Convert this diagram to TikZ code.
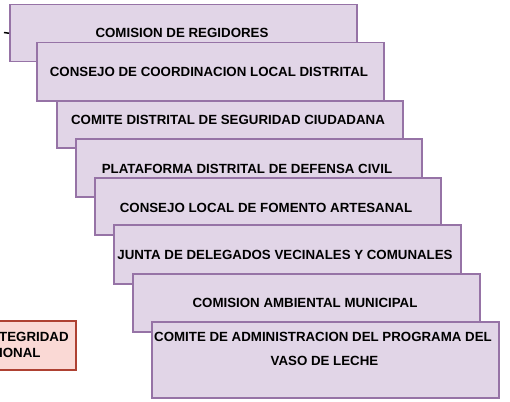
\documentclass[tikz,border=0pt]{standalone}
\usepackage{fontspec}
\setmainfont{Liberation Sans}
\definecolor{pfill}{HTML}{E1D5E7}
\definecolor{pdraw}{HTML}{9673A6}
\definecolor{rfill}{HTML}{FAD9D5}
\definecolor{rdraw}{HTML}{AE4132}
\begin{document}
\begin{tikzpicture}[x=1pt,y=-1pt,
  pbox/.style={draw=pdraw,fill=pfill,line width=1.5pt,anchor=north west,inner sep=0pt},
  rbox/.style={draw=rdraw,fill=rfill,line width=1.5pt,anchor=north west,inner sep=0pt},
  lbl/.style={font=\fontsize{13.3}{16}\selectfont\bfseries,inner sep=0pt,text=black}]
\useasboundingbox (0,0) rectangle (510,401);
\clip (0,0) rectangle (510,401);
\node[pbox,minimum width=347pt,minimum height=57pt] (b1) at (9,4) {};
\node[lbl] (t1) at (182,33) {COMISION DE REGIDORES};
\node[pbox,minimum width=347pt,minimum height=58pt] (b2) at (36,42) {};
\node[lbl] (t2) at (209,72) {CONSEJO DE COORDINACION LOCAL DISTRITAL};
\node[pbox,minimum width=346pt,minimum height=47pt] (b3) at (56,100) {};
\node[lbl] (t3) at (228,120) {COMITE DISTRITAL DE SEGURIDAD CIUDADANA};
\node[pbox,minimum width=346pt,minimum height=58pt] (b4) at (75,138) {};
\node[lbl] (t4) at (247,169) {PLATAFORMA DISTRITAL DE DEFENSA CIVIL};
\node[pbox,minimum width=346pt,minimum height=57pt] (b5) at (94,177) {};
\node[lbl] (t5) at (266,208) {CONSEJO LOCAL DE FOMENTO ARTESANAL};
\node[pbox,minimum width=347pt,minimum height=59pt] (b6) at (113,224) {};
\node[lbl] (t6) at (285,255) {JUNTA DE DELEGADOS VECINALES Y COMUNALES};
\node[pbox,minimum width=347pt,minimum height=58pt] (b7) at (132,273) {};
\node[lbl] (t7) at (305,303) {COMISION AMBIENTAL MUNICIPAL};
\node[pbox,minimum width=347pt,minimum height=76pt] (b8) at (151,321) {};
\node[lbl] (t8a) at (323,337) {COMITE DE ADMINISTRACION DEL PROGRAMA DEL};
\node[lbl] (t8b) at (324.5,361) {VASO DE LECHE};
\node[rbox,minimum width=140pt,minimum height=49pt] (r) at (-65,320) {};
\node[lbl,anchor=west] (ra) at (-1,337) {TEGRIDAD};
\node[lbl,anchor=west] (rb) at (-1,353) {IONAL};
\coordinate (s) at (4,32.5);
\draw[black,line width=1.5pt] (s) -- (b1.west);
\end{tikzpicture}
\end{document}
